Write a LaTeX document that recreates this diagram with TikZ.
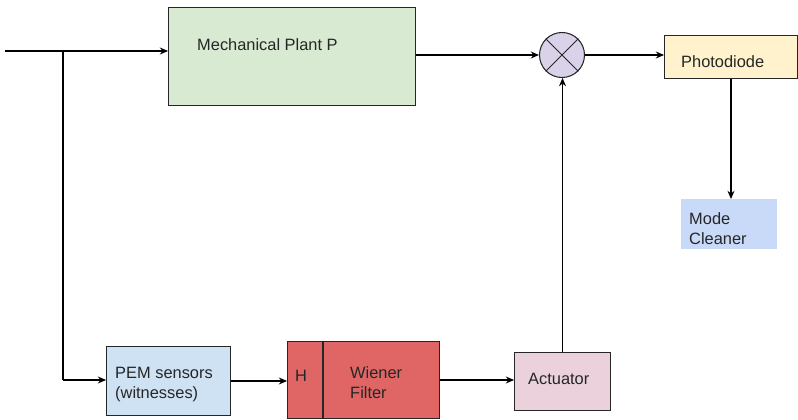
\documentclass[tikz,border=0pt]{standalone}
\usepackage{fontspec}
\setmainfont{Liberation Sans}
\usetikzlibrary{arrows.meta}

\definecolor{plantgreen}{HTML}{D9EAD3}
\definecolor{mixlilac}{HTML}{D9D2E9}
\definecolor{diodeyellow}{HTML}{FFF2CC}
\definecolor{cleanblue}{HTML}{C9DAF8}
\definecolor{pemblue}{HTML}{CFE2F3}
\definecolor{filterred}{HTML}{E06666}
\definecolor{actpink}{HTML}{EAD1DC}

\tikzset{
	blk/.style={draw=black!85, line width=0.9pt, anchor=north west, inner sep=0pt},
	lbl/.style={anchor=west, align=left, inner sep=0pt, font=\fontsize{14}{17}\selectfont, text=black!85},
	sig/.style={line width=0.9pt, -{Stealth[length=7pt,width=6pt]}},
}

\begin{document}
\begin{tikzpicture}[x=0.03cm, y=-0.03cm]
	\useasboundingbox (0,0) rectangle (798,420);

	% blocks
	\node[blk, fill=plantgreen, minimum width=247*0.03cm, minimum height=98*0.03cm] (plant) at (168,7) {};
	\node[lbl] (plantlbl) at (197,45) {Mechanical Plant P};

	\node[blk, fill=diodeyellow, minimum width=133*0.03cm, minimum height=43*0.03cm] (diode) at (664,35) {};
	\node[lbl] (diodelbl) at (681,62) {Photodiode};

	\node[anchor=north west, inner sep=0pt, fill=cleanblue, minimum width=96*0.03cm, minimum height=50*0.03cm] (cleaner) at (681,199) {};
	\node[lbl] (cleanerlbl) at (689,229) {Mode\\Cleaner};

	\node[blk, fill=pemblue, minimum width=124*0.03cm, minimum height=69*0.03cm] (pem) at (106,346) {};
	\node[lbl] (pemlbl) at (115,385) {PEM sensors\\(witnesses)};

	\node[blk, fill=filterred, minimum width=152*0.03cm, minimum height=77*0.03cm] (wiener) at (287,341) {};
	\draw[line width=0.9pt, black!85] (323,341) -- (323,418);
	\node[lbl] (hlbl) at (295,376) {H};
	\node[lbl] (wienerlbl) at (350,383) {Wiener\\Filter};

	\node[blk, fill=actpink, minimum width=96*0.03cm, minimum height=58*0.03cm] (act) at (514,352) {};
	\node[lbl] (actlbl) at (528,379) {Actuator};

	% multiplier
	\node[draw=black!85, line width=0.9pt, circle, fill=mixlilac, minimum size=45*0.03cm, inner sep=0pt] (mix) at (562,55) {};
	\draw[line width=0.9pt, black!85] (mix.north east) -- (mix.south west) (mix.north west) -- (mix.south east);

	% signal paths
	\coordinate (in) at (5,51);
	\coordinate (split) at (63,51);
	\coordinate (down) at (63,380);
	\draw[sig] (in) -- (plant.west |- in);
	\draw[line width=0.9pt] (split) -- (down);
	\draw[sig] (down) -- (pem.west |- down);
	\draw[sig] (plant.east |- mix) -- (mix.west);
	\draw[sig] (mix.east) -- (diode.west |- mix);
	\draw[sig] (diode.south -| 731,0) -- (cleaner.north -| 731,0);
	\draw[sig] (pem.east |- 0,381) -- (wiener.west |- 0,381);
	\draw[sig] (wiener.east |- 0,380) -- (act.west |- 0,380);
	\draw[sig] (act.north) -- (act.north |- mix.south);
\end{tikzpicture}
\end{document}
